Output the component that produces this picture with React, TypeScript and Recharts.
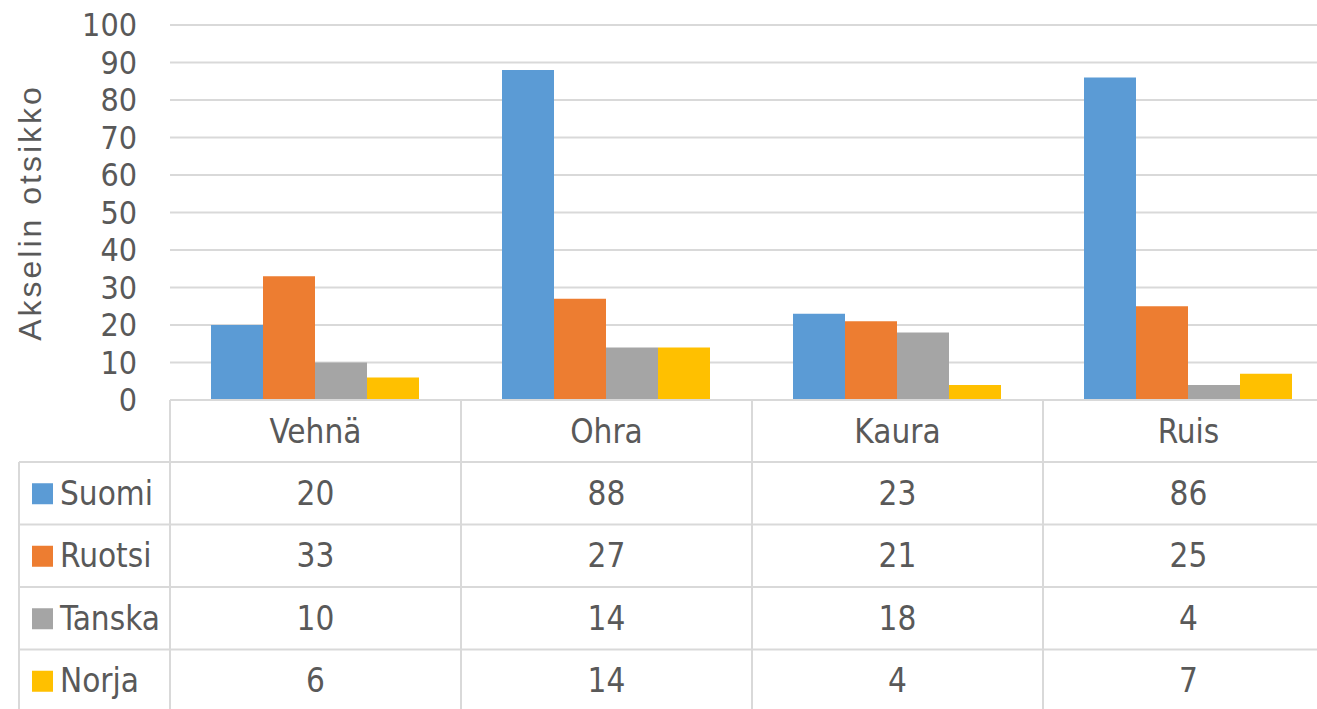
import { BarChart, Bar, XAxis, YAxis, CartesianGrid } from 'recharts';

const categories = ['Vehnä', 'Ohra', 'Kaura', 'Ruis'];
const suomi = [20, 88, 23, 86];
const ruotsi = [33, 27, 21, 25];
const tanska = [10, 14, 18, 4];
const norja = [6, 14, 4, 7];
const yTicks = [0, 10, 20, 30, 40, 50, 60, 70, 80, 90, 100];

const series = [
    { name: 'Suomi', values: suomi, color: '#5B9BD5' },
    { name: 'Ruotsi', values: ruotsi, color: '#ED7D31' },
    { name: 'Tanska', values: tanska, color: '#A5A5A5' },
    { name: 'Norja', values: norja, color: '#FFC000' },
];

const data = categories.map((name, i) => {
    const row: Record<string, string | number> = { name };
    series.forEach((s) => (row[s.name] = s.values[i]));
    return row;
});

// layout
const CHART_W = 1336;
const CHART_H = 720;
const MARGIN = { top: 25, right: 2, left: 0, bottom: 0 };
const Y_AXIS_W = 170;
const X_AXIS_H = 320;
const BAND = (CHART_W - MARGIN.left - MARGIN.right - Y_AXIS_W) / categories.length;
const HEADER_H = 62;
const ROW_H = 62.5;
const LEGEND_LEFT = 19;

const FONT = "'Liberation Sans Narrow', 'DejaVu Sans Condensed', 'Liberation Sans', sans-serif";
const TEXT = '#595959';
const LINE = '#d9d9d9';

// x axis tick draws one column of the data table (plus the legend column for the first one)
const TableColumn = (props: any) => {
    const { x, y, payload, index } = props;
    const left = x - BAND / 2;
    const right = x + BAND / 2;
    const bottom = y + X_AXIS_H;
    const rowTops = series.map((_, i) => y + HEADER_H + i * ROW_H);
    return (
        <g>
            <line x1={left} x2={right} y1={y} y2={y} stroke={LINE} strokeWidth={2} />
            <line x1={left} x2={left} y1={y} y2={bottom} stroke={LINE} strokeWidth={2} />
            <line x1={right} x2={right} y1={y} y2={bottom} stroke={LINE} strokeWidth={2} />
            <text x={x} y={y + HEADER_H / 2} textAnchor="middle" dominantBaseline="central"
                fill={TEXT} fontSize={33} fontFamily={FONT}>
                {payload.value}
            </text>
            {series.map((s, i) => (
                <g key={s.name}>
                    <line x1={index === 0 ? LEGEND_LEFT : left} x2={right} y1={rowTops[i]} y2={rowTops[i]}
                        stroke={LINE} strokeWidth={2} />
                    <text x={x} y={rowTops[i] + ROW_H / 2} textAnchor="middle" dominantBaseline="central"
                        fill={TEXT} fontSize={33} fontFamily={FONT}>
                        {s.values[index]}
                    </text>
                    {index === 0 && (
                        <g>
                            <rect x={LEGEND_LEFT + 13} y={rowTops[i] + ROW_H / 2 - 10} width={21} height={21} fill={s.color} />
                            <text x={LEGEND_LEFT + 41} y={rowTops[i] + ROW_H / 2} dominantBaseline="central"
                                fill={TEXT} fontSize={33} fontFamily={FONT}>
                                {s.name}
                            </text>
                        </g>
                    )}
                </g>
            ))}
            {index === 0 && (
                <line x1={LEGEND_LEFT} x2={LEGEND_LEFT} y1={rowTops[0]} y2={bottom} stroke={LINE} strokeWidth={2} />
            )}
        </g>
    );
};

export default function App() {
    return (
        <div style={{ position: 'absolute', left: 0, top: 0, width: 1317, height: 709, overflow: 'hidden', background: '#fff' }}>
            <BarChart width={CHART_W} height={CHART_H} data={data} margin={MARGIN}
                barCategoryGap={41} barGap={0}>
                <CartesianGrid vertical={false} stroke={LINE} strokeWidth={2} />
                <XAxis dataKey="name" height={X_AXIS_H} axisLine={false} tickLine={false}
                    tickSize={0} tickMargin={0} interval={0} tick={<TableColumn />} />
                <YAxis width={Y_AXIS_W} domain={[0, 100]} ticks={yTicks} interval={0}
                    axisLine={false} tickLine={false} tickSize={0} tickMargin={33}
                    tick={{ fill: TEXT, fontSize: 32, fontFamily: FONT }}
                    label={{
                        value: 'Akselin otsikko', angle: -90, position: 'insideLeft', offset: 30,
                        style: { textAnchor: 'middle', fill: TEXT, fontSize: 32, letterSpacing: 3, fontFamily: "'Liberation Sans', sans-serif" },
                    }} />
                {series.map((s) => (
                    <Bar key={s.name} dataKey={s.name} fill={s.color} isAnimationActive={false} />
                ))}
            </BarChart>
        </div>
    );
}
